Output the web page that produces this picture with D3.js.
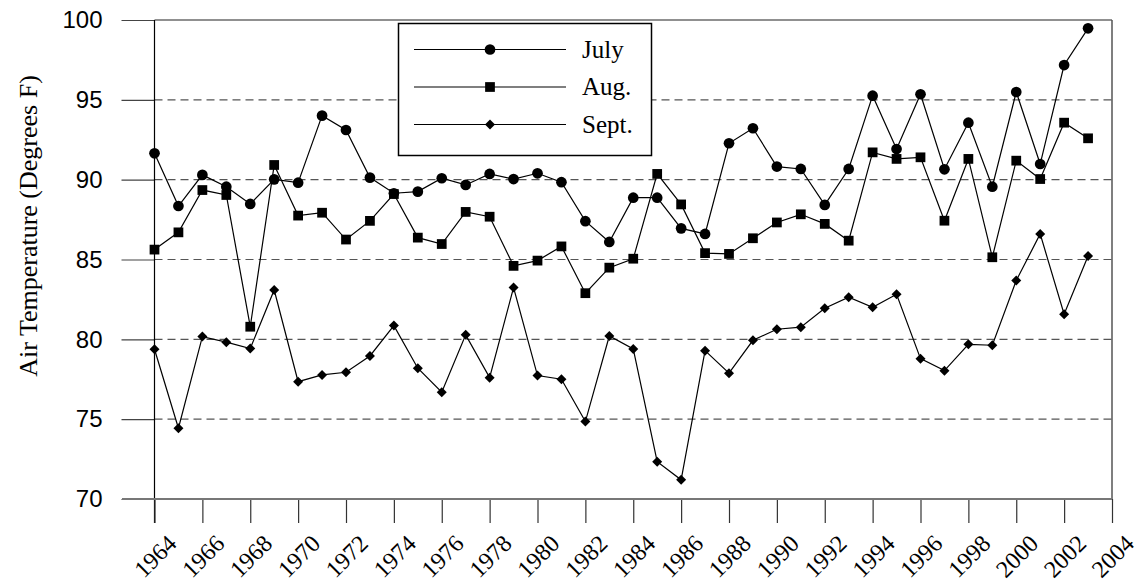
<!DOCTYPE html>
<html>
<head>
<meta charset="utf-8">
<script src="https://cdn.jsdelivr.net/npm/d3@7"></script>
<style>
  html, body { margin: 0; padding: 0; background: #fff; }
  svg { display: block; }
</style>
</head>
<body>
<svg id="chart" width="1138" height="582"></svg>
<script>
// Mean monthly air temperature, 1964-2003
const years = d3.range(1964, 2004);
const julyTemps = [91.65, 88.35, 90.3, 89.56, 88.48, 90.02, 89.81, 94.01, 93.11, 90.13,
                   89.15, 89.25, 90.09, 89.67, 90.36, 90.04, 90.4, 89.84, 87.4, 86.1,
                   88.87, 88.87, 86.95, 86.6, 92.28, 93.22, 90.82, 90.67, 88.42, 90.67,
                   95.26, 91.92, 95.35, 90.65, 93.57, 89.56, 95.49, 90.98, 97.18, 99.48];
const augTemps = [85.62, 86.7, 89.35, 89.04, 80.79, 90.92, 87.75, 87.93, 86.25, 87.42,
                  89.1, 86.37, 85.97, 87.98, 87.68, 84.6, 84.93, 85.82, 82.89, 84.49,
                  85.05, 90.36, 88.45, 85.4, 85.35, 86.33, 87.32, 87.83, 87.23, 86.18,
                  91.71, 91.3, 91.4, 87.43, 91.3, 85.14, 91.19, 90.04, 93.57, 92.59];
const septTemps = [79.38, 74.43, 80.17, 79.82, 79.42, 83.09, 77.35, 77.77, 77.94, 78.96,
                   80.86, 78.19, 76.69, 80.28, 77.6, 83.24, 77.73, 77.5, 74.85, 80.21,
                   79.4, 72.34, 71.2, 79.29, 77.88, 79.94, 80.63, 80.76, 81.95, 82.64,
                   82.01, 82.82, 78.79, 78.04, 79.69, 79.63, 83.68, 86.6, 81.57, 85.22];
const seriesNames = ["July", "Aug.", "Sept."];
const yTicks = [70, 75, 80, 85, 90, 95, 100];
const xTicks = d3.range(1964, 2005, 2);
const gridValues = [75, 80, 85, 90, 95];

const svg = d3.select("#chart");

const x = d3.scaleLinear().domain([1964, 2004]).range([154.5, 1112]);
const y = d3.scaleLinear().domain([70, 100]).range([499, 20]);

const plot = svg.append("g");

// dashed horizontal grid
plot.selectAll("line.grid")
  .data(gridValues)
  .join("line")
  .attr("class", "grid")
  .attr("x1", x(1964)).attr("x2", x(2004))
  .attr("y1", d => y(d)).attr("y2", d => y(d))
  .attr("stroke", "#555")
  .attr("stroke-width", 1.2)
  .attr("stroke-dasharray", "8,5");

// top and right frame
plot.append("line")
  .attr("x1", x(1964)).attr("x2", x(2004))
  .attr("y1", y(100)).attr("y2", y(100))
  .attr("stroke", "#222").attr("stroke-width", 1.2);
plot.append("line")
  .attr("x1", x(2004)).attr("x2", x(2004))
  .attr("y1", y(100)).attr("y2", y(70))
  .attr("stroke", "#555").attr("stroke-width", 1.5);

// y axis: long outward ticks
const yAxis = d3.axisLeft(y).tickValues(yTicks).tickSize(33).tickPadding(19)
  .tickFormat(d3.format("d"));
const gy = svg.append("g")
  .attr("transform", `translate(${x(1964)},0)`)
  .call(yAxis);
gy.select(".domain").remove();
gy.selectAll(".tick line").attr("stroke", "#444").attr("stroke-width", 1.2);
gy.selectAll(".tick text")
  .attr("fill", "#000")
  .style("font-family", "'Liberation Sans', Arial, sans-serif")
  .style("font-size", "24px");
svg.append("line")
  .attr("x1", x(1964)).attr("x2", x(1964))
  .attr("y1", y(100)).attr("y2", y(70) + 24)
  .attr("stroke", "#000").attr("stroke-width", 1.2);

// x axis
const xAxis = d3.axisBottom(x).tickValues(xTicks).tickSize(24).tickFormat(d3.format("d"));
const gx = svg.append("g")
  .attr("transform", `translate(0,${y(70)})`)
  .call(xAxis);
gx.select(".domain").remove();
gx.selectAll(".tick line").attr("stroke", "#333").attr("stroke-width", 1.2);
gx.selectAll(".tick text")
  .attr("fill", "#000")
  .attr("text-anchor", "end")
  .attr("dy", null)
  .attr("y", null)
  .attr("transform", "translate(23,46) rotate(-45)")
  .style("font-family", "'Liberation Serif', 'Times New Roman', serif")
  .style("font-size", "24px");
svg.append("line")
  .attr("x1", 122).attr("x2", x(2004))
  .attr("y1", y(70)).attr("y2", y(70))
  .attr("stroke", "#777").attr("stroke-width", 2);

// y axis title
svg.append("text")
  .attr("transform", "translate(37,226) rotate(-90)")
  .attr("text-anchor", "middle")
  .style("font-family", "'Liberation Serif', 'Times New Roman', serif")
  .style("font-size", "26px")
  .text("Air Temperature (Degrees F)");

// marker shapes: circle, square, and a square turned 45° for the diamond
const markers = [
  { sym: d3.symbol().type(d3.symbolCircle).size(90), rot: 0 },
  { sym: d3.symbol().type(d3.symbolSquare).size(95), rot: 0 },
  { sym: d3.symbol().type(d3.symbolSquare).size(50), rot: 45 }
];

const series = [julyTemps, augTemps, septTemps];
const line = d3.line().x((d, i) => x(years[i])).y(d => y(d));

series.forEach((vals, s) => {
  const g = svg.append("g");
  g.append("path")
    .attr("d", line(vals))
    .attr("fill", "none")
    .attr("stroke", "#000")
    .attr("stroke-width", 1.2);
  g.selectAll("path.pt")
    .data(vals)
    .join("path")
    .attr("class", "pt")
    .attr("d", markers[s].sym)
    .attr("transform", (d, i) => `translate(${x(years[i])},${y(d)}) rotate(${markers[s].rot})`)
    .attr("fill", "#000");
});

// legend
const legend = svg.append("g");
legend.append("rect")
  .attr("x", 398.5).attr("y", 23.5)
  .attr("width", 253).attr("height", 132)
  .attr("fill", "#fff")
  .attr("stroke", "#000").attr("stroke-width", 1.5);
const legendY = [49.5, 87, 124.5];
seriesNames.forEach((name, s) => {
  legend.append("line")
    .attr("x1", 414).attr("x2", 566)
    .attr("y1", legendY[s]).attr("y2", legendY[s])
    .attr("stroke", "#000").attr("stroke-width", 1.2);
  legend.append("path")
    .attr("d", markers[s].sym)
    .attr("transform", `translate(490,${legendY[s]}) rotate(${markers[s].rot})`)
    .attr("fill", "#000");
  legend.append("text")
    .attr("x", 582).attr("y", legendY[s] + 8)
    .style("font-family", "'Liberation Serif', 'Times New Roman', serif")
    .style("font-size", "25px")
    .text(name);
});
</script>
</body>
</html>
